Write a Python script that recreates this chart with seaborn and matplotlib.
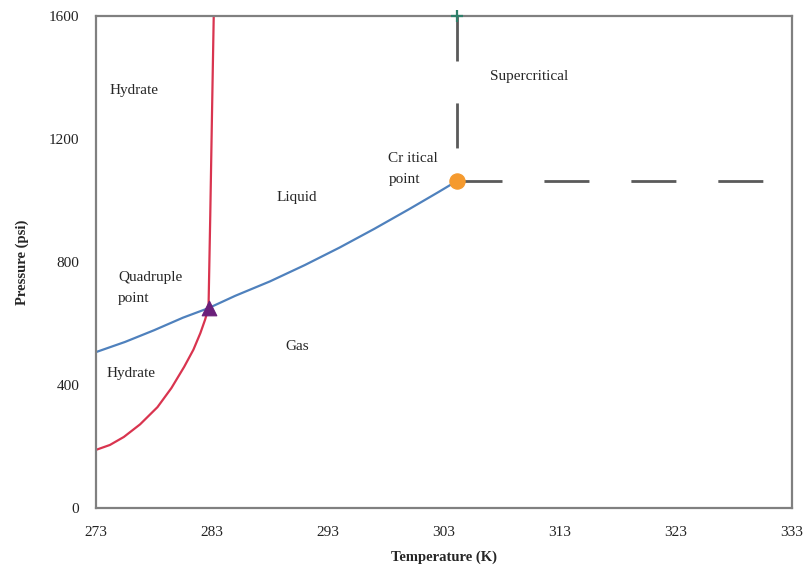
import matplotlib
matplotlib.use("Agg")
import matplotlib.pyplot as plt
import seaborn as sns
import pandas as pd

# Vapour-liquid equilibrium curve (K, psi), from 273 K up to the critical point
vle_temp = [273.0, 275.5, 278.0, 280.5, 282.7, 285.0, 288.0, 291.0, 294.0, 297.0, 300.0, 302.5, 304.1]
vle_pres = [507, 540, 578, 619, 650, 690, 737, 790, 847, 908, 972, 1027, 1063]

# Hydrate-gas equilibrium curve, 273 K up to the quadruple point
hg_temp = [273.0, 274.2, 275.4, 276.8, 278.3, 279.5, 280.6, 281.4, 282.0, 282.4, 282.7]
hg_pres = [189, 205, 231, 272, 328, 390, 459, 515, 569, 612, 650]

# Hydrate-liquid equilibrium line, quadruple point up to the top of the plot
hl_temp = [282.7, 282.85, 283.0, 283.15]
hl_pres = [650, 950, 1280, 1600]

quad_point = (282.7, 650)
crit_point = (304.1, 1063)

x_ticks = [273, 283, 293, 303, 313, 323, 333]
y_ticks = [0, 400, 800, 1200, 1600]

sns.set_style("white")
plt.rcParams["font.family"] = ["Liberation Serif", "DejaVu Serif"]

fig = plt.figure(figsize=(8.08, 5.72), dpi=100)
ax = fig.add_axes([0.1188, 0.1119, 0.8614, 0.8601])

blue = "#4F81BD"
red = "#D9344F"

sns.lineplot(data=pd.DataFrame({"T": vle_temp, "P": vle_pres}), x="T", y="P",
             sort=False, ax=ax, color=blue, lw=1.6)
sns.lineplot(data=pd.DataFrame({"T": hg_temp, "P": hg_pres}), x="T", y="P",
             sort=False, ax=ax, color=red, lw=1.6)
sns.lineplot(data=pd.DataFrame({"T": hl_temp, "P": hl_pres}), x="T", y="P",
             sort=False, ax=ax, color=red, lw=1.6)

# Supercritical boundaries
dash_col = "#5A5A5A"
ax.plot([crit_point[0], crit_point[0]], [1600, crit_point[1]], color=dash_col,
        lw=2.0, dashes=(16.2, 15.1), dash_capstyle="butt")
ax.plot([crit_point[0], 333], [crit_point[1], crit_point[1]], color=dash_col,
        lw=2.0, dashes=(16.2, 15.1), dash_capstyle="butt")
ax.plot([crit_point[0]], [1600], marker="+", color="#2F7F6A", ms=9, mew=1.6,
        clip_on=False, zorder=5)

sns.scatterplot(x=[quad_point[0]], y=[quad_point[1]], marker="^", s=110,
                color="#6A1F7A", edgecolor="#6A1F7A", ax=ax, zorder=6)
sns.scatterplot(x=[crit_point[0]], y=[crit_point[1]], marker="o", s=120,
                color="#F59A2E", edgecolor="#F59A2E", ax=ax, zorder=6)

# Region labels
fs = 11
ax.text(274.2, 1359, "Hydrate", fontsize=fs, va="center", ha="left")
ax.text(274.9, 715, "Quadruple\npoint", fontsize=fs, va="center", ha="left", linespacing=1.75)
ax.text(273.95, 439, "Hydrate", fontsize=fs, va="center", ha="left")
ax.text(288.6, 1011, "Liquid", fontsize=fs, va="center", ha="left")
ax.text(289.3, 524, "Gas", fontsize=fs, va="center", ha="left")
ax.text(298.2, 1102, "Cr itical\npoint", fontsize=fs, va="center", ha="left", linespacing=1.75)
ax.text(307.0, 1402, "Supercritical", fontsize=fs, va="center", ha="left")

ax.set_xlim(273, 333)
ax.set_ylim(0, 1600)
ax.set_xticks(x_ticks)
ax.set_yticks(y_ticks)
ax.set_xticklabels([str(t) for t in x_ticks], fontsize=11)
ax.set_yticklabels([str(t) for t in y_ticks], fontsize=11)
ax.tick_params(axis="both", direction="out", length=4, width=1, color="#A0A0A0",
               pad=8, labelcolor="#222222")
ax.tick_params(axis="x", pad=9)

ax.set_xlabel("Temperature (K)", fontsize=10.5, fontweight="bold", labelpad=8)
ax.set_ylabel("Pressure (psi)", fontsize=10.5, fontweight="bold", labelpad=14)

for sp in ax.spines.values():
    sp.set_visible(True)
    sp.set_color("#808080")
    sp.set_linewidth(1.6)

fig.savefig("out.png", dpi=100)
